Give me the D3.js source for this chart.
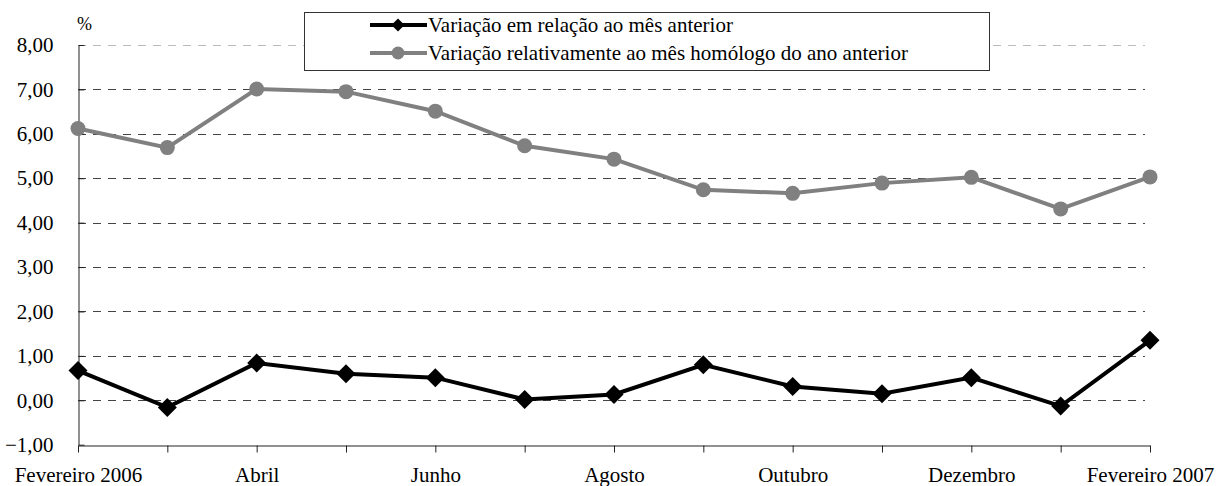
<!DOCTYPE html>
<html>
<head>
<meta charset="utf-8">
<script src="https://cdn.jsdelivr.net/npm/d3@7"></script>
</head>
<body style="margin:0">
<svg id="grafico" width="1216" height="486" font-family="Liberation Serif"></svg>
<script>
// dados
var meses = ["Fevereiro 2006", "Março", "Abril", "Maio", "Junho", "Julho", "Agosto",
             "Setembro", "Outubro", "Novembro", "Dezembro", "Janeiro", "Fevereiro 2007"];
var rotulosX = ["Fevereiro 2006", "Abril", "Junho", "Agosto", "Outubro", "Dezembro", "Fevereiro 2007"];
var varMensal = [0.67, -0.16, 0.84, 0.60, 0.51, 0.02, 0.13, 0.80, 0.31, 0.15, 0.51, -0.13, 1.35];
var varHomologa = [6.12, 5.69, 7.01, 6.95, 6.51, 5.73, 5.43, 4.74, 4.66, 4.89, 5.02, 4.31, 5.03];
var ticksY = [-1, 0, 1, 2, 3, 4, 5, 6, 7, 8];
var legendas = ["Variação em relação ao mês anterior",
                "Variação relativamente ao mês homólogo do ano anterior"];

var fonte = "Liberation Serif";
var tamFonte = 21;
var largura = 1216, altura = 486;
var margem = {esq: 78, dir: 66, cima: 45, baixo: 41};

var svg = d3.select("#grafico");

var x = d3.scalePoint()
    .domain(meses)
    .range([margem.esq, largura - margem.dir]);

var y = d3.scaleLinear()
    .domain([-1, 8])
    .range([altura - margem.baixo - 0.3, margem.cima]);

var fmt = function(d) { return d3.format(".2f")(d).replace(".", ","); };

// linhas de grelha tracejadas
svg.append("g").selectAll("line")
    .data(ticksY.filter(function(d) { return d > -1; }))
    .enter().append("line")
    .attr("x1", margem.esq)
    .attr("x2", largura - margem.dir - 5)
    .attr("y1", function(d) { return Math.round(y(d)) + 0.5; })
    .attr("y2", function(d) { return Math.round(y(d)) + 0.5; })
    .attr("stroke", function(d) { return d == 8 ? "#bbb" : "#444"; })
    .attr("stroke-width", 1)
    .attr("stroke-dasharray", "8,7");

// eixo Y
var eixoY = d3.axisLeft(y).tickValues(ticksY).tickFormat(fmt).tickSizeInner(-6).tickSizeOuter(0).tickPadding(25);
var gY = svg.append("g")
    .attr("transform", "translate(" + (margem.esq + 0.5) + ",0)")
    .call(eixoY);
gY.select(".domain").attr("stroke", "#222");
gY.selectAll(".tick line").attr("stroke", "#222");
gY.selectAll("text").attr("fill", "#000")
    .attr("font-family", fonte).attr("font-size", tamFonte);

// eixo X
var eixoX = d3.axisBottom(x)
    .tickFormat(function(d) { return rotulosX.indexOf(d) >= 0 ? d : ""; })
    .tickSizeInner(7).tickSizeOuter(0).tickPadding(15);
var gX = svg.append("g")
    .attr("transform", "translate(0," + (Math.round(y(-1)) + 0.5) + ")")
    .call(eixoX);
gX.select(".domain").attr("stroke", "#222");
gX.selectAll(".tick line").attr("stroke", "#222");
gX.selectAll("text").attr("fill", "#000")
    .attr("font-family", fonte).attr("font-size", tamFonte);

// unidade
svg.append("text")
    .attr("x", 84.5).attr("y", 30)
    .attr("text-anchor", "middle")
    .attr("font-family", fonte)
    .attr("font-size", 18)
    .text("%");

var linha = d3.line()
    .x(function(d, i) { return x(meses[i]); })
    .y(function(d) { return y(d); });

// serie homologa (cinzento, circulos)
svg.append("path")
    .datum(varHomologa)
    .attr("d", linha)
    .attr("fill", "none")
    .attr("stroke", "#808080")
    .attr("stroke-width", 4);
svg.append("g").selectAll("circle")
    .data(varHomologa)
    .enter().append("circle")
    .attr("cx", function(d, i) { return x(meses[i]); })
    .attr("cy", function(d) { return y(d); })
    .attr("r", 7.5)
    .attr("fill", "#808080");

// serie mensal (preto, losangos)
var losango = d3.symbol().type(d3.symbolDiamond2).size(230);
svg.append("path")
    .datum(varMensal)
    .attr("d", linha)
    .attr("fill", "none")
    .attr("stroke", "#000")
    .attr("stroke-width", 4);
svg.append("g").selectAll("path")
    .data(varMensal)
    .enter().append("path")
    .attr("d", losango)
    .attr("transform", function(d, i) { return "translate(" + x(meses[i]) + "," + y(d) + ")"; })
    .attr("fill", "#000");

// legenda
var leg = svg.append("g");
leg.append("rect")
    .attr("x", 304.5).attr("y", 12.5)
    .attr("width", 685).attr("height", 58)
    .attr("fill", "#fff")
    .attr("stroke", "#333")
    .attr("stroke-width", 1);
var corLeg = ["#000", "#808080"];
legendas.forEach(function(t, i) {
    var yy = 25 + i * 28;
    leg.append("line")
        .attr("x1", 370).attr("x2", 427)
        .attr("y1", yy).attr("y2", yy)
        .attr("stroke", corLeg[i])
        .attr("stroke-width", 4);
    if (i == 0) {
        leg.append("path")
            .attr("d", d3.symbol().type(d3.symbolDiamond2).size(110))
            .attr("transform", "translate(398," + yy + ")")
            .attr("fill", "#000");
    } else {
        leg.append("circle")
            .attr("cx", 398).attr("cy", yy).attr("r", 6.5)
            .attr("fill", "#808080");
    }
    leg.append("text")
        .attr("x", 428).attr("y", yy + 7)
        .attr("font-family", fonte)
        .attr("font-size", tamFonte)
        .text(t);
});
</script>
</body>
</html>
